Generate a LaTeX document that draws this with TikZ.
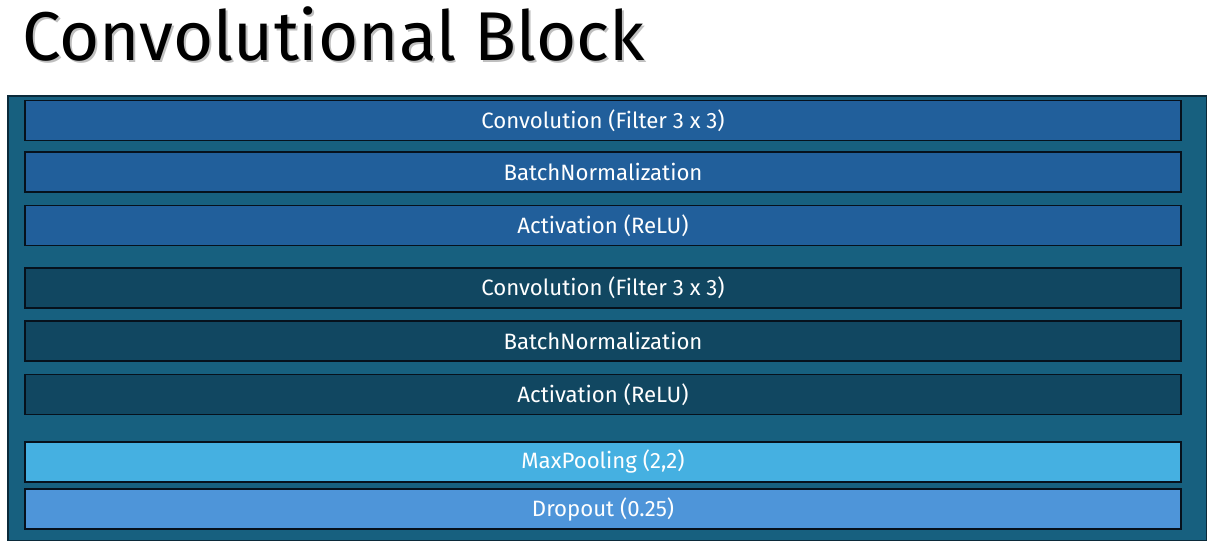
\documentclass[tikz,border=0pt]{standalone}
\usepackage{fontspec}
\setmainfont{Fira Sans}
\definecolor{blockbg}{HTML}{17607F}
\definecolor{blockedge}{HTML}{0B2A3A}
\definecolor{layerA}{HTML}{215F9B}
\definecolor{layerB}{HTML}{114761}
\definecolor{poolfill}{HTML}{45B0E1}
\definecolor{dropfill}{HTML}{4E95D9}
\definecolor{layeredge}{HTML}{06111C}
% heading text with a soft drop shadow set behind it
\newcommand{\shadowedtext}[1]{\rlap{\kern2pt\raisebox{-2pt}{\textcolor{black!25}{#1}}}#1}
\begin{document}
\begin{tikzpicture}[x=1pt,y=-1pt,
  layer/.style={draw=layeredge, line width=1.6pt, minimum width=1156pt, minimum height=40pt,
    inner sep=0pt, text=white, font=\fontsize{22.2}{26}\selectfont},
  outerblock/.style={draw=blockedge, line width=1.8pt, fill=blockbg, inner sep=0pt,
    minimum width=1198.5pt, minimum height=444.5pt},
  titletext/.style={anchor=base west, inner sep=0pt, font=\fontsize{69}{75}\selectfont}]
  \useasboundingbox (0,0) rectangle (1217,554);
  % heading
  \node[titletext, text=black] (title) at (22,60) {\shadowedtext{Convolutional Block}};
  % enclosing block
  \node[outerblock] (block) at (607.25,318.25) {};
  % first convolution stage
  \node[layer, fill=layerA] (conv1) at (603,120.3) {Convolution (Filter 3 x 3)};
  \node[layer, fill=layerA] (bn1)   at (603,171.8) {BatchNormalization};
  \node[layer, fill=layerA] (act1)  at (603,225.6) {Activation (ReLU)};
  % second convolution stage
  \node[layer, fill=layerB] (conv2) at (603,288)   {Convolution (Filter 3 x 3)};
  \node[layer, fill=layerB] (bn2)   at (603,341)   {BatchNormalization};
  \node[layer, fill=layerB] (act2)  at (603,394.6) {Activation (ReLU)};
  % downsampling and regularisation
  \node[layer, fill=poolfill] (pool) at (603,461.8) {MaxPooling (2,2)};
  \node[layer, fill=dropfill] (drop) at (603,509.2) {Dropout (0.25)};
\end{tikzpicture}
\end{document}
